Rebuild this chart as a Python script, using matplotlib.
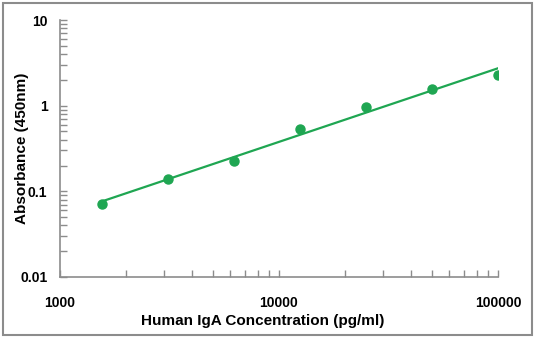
import numpy as np
import matplotlib
matplotlib.use("Agg")
import matplotlib.pyplot as plt
from matplotlib.patches import Rectangle
from matplotlib.ticker import LogLocator, FixedLocator, NullFormatter

# Standard curve data
conc = [1562.5, 3125, 6250, 12500, 25000, 50000, 100000]
absorb = [0.072, 0.139, 0.225, 0.54, 0.97, 1.56, 2.29]
x_ticks = [1000, 10000, 100000]
x_labels = ["1000", "10000", "100000"]
y_ticks = [0.01, 0.1, 1, 10]
y_labels = ["0.01", "0.1", "1", "10"]

green = "#1fa652"
grey = "#8c8c8c"

plt.rcParams['font.family'] = ['Liberation Sans', 'DejaVu Sans']

fig = plt.figure(figsize=(5.35, 3.38), dpi=100)
ax = fig.add_axes([60 / 535, 1 - 277 / 338, 438 / 535, 257 / 338])

# power fit in log space for the trend line
k, b = np.polyfit(np.log10(conc), np.log10(absorb), 1)
xf = np.logspace(np.log10(conc[0]), np.log10(conc[-1]), 100)
ax.plot(xf, 10 ** (k * np.log10(xf) + b), color=green, lw=1.6, zorder=2)
ax.plot(conc, absorb, "o", color=green, ms=6.5, zorder=3)

ax.set_xscale("log")
ax.set_yscale("log")
ax.set_xlim(1000, 100000)
ax.set_ylim(0.01, 10)

ax.xaxis.set_major_locator(FixedLocator(x_ticks))
ax.set_xticklabels(x_labels)
ax.yaxis.set_major_locator(FixedLocator(y_ticks))
ax.set_yticklabels(y_labels)
ax.xaxis.set_minor_locator(LogLocator(base=10, subs=np.arange(2, 10)))
ax.yaxis.set_minor_locator(LogLocator(base=10, subs=np.arange(2, 10)))
ax.xaxis.set_minor_formatter(NullFormatter())
ax.yaxis.set_minor_formatter(NullFormatter())

for s in ["top", "right"]:
    ax.spines[s].set_visible(False)
for s in ["left", "bottom"]:
    ax.spines[s].set_color(grey)
    ax.spines[s].set_linewidth(1.2)

ax.tick_params(which="both", direction="in", color=grey, width=1)
ax.tick_params(which="major", length=5)
ax.tick_params(which="minor", length=5)
ax.tick_params(axis="y", which="major", pad=9, labelsize=10)
ax.tick_params(axis="x", which="major", pad=14, labelsize=10)
for lbl in ax.get_xticklabels() + ax.get_yticklabels():
    lbl.set_fontweight("bold")

ax.set_xlabel("Human IgA Concentration (pg/ml)", fontsize=11, fontweight="bold")
ax.set_ylabel("Absorbance (450nm)", fontsize=11, fontweight="bold")
ax.xaxis.set_label_coords(0.463, -0.145)
ax.yaxis.set_label_coords(-0.071, 0.5)

# grey frame around the whole picture
fig.patches.append(Rectangle((3 / 535, 3 / 338), 529 / 535, 332 / 338,
                             transform=fig.transFigure, fill=False,
                             edgecolor=grey, lw=1.5))

fig.savefig("out.png", dpi=100)
